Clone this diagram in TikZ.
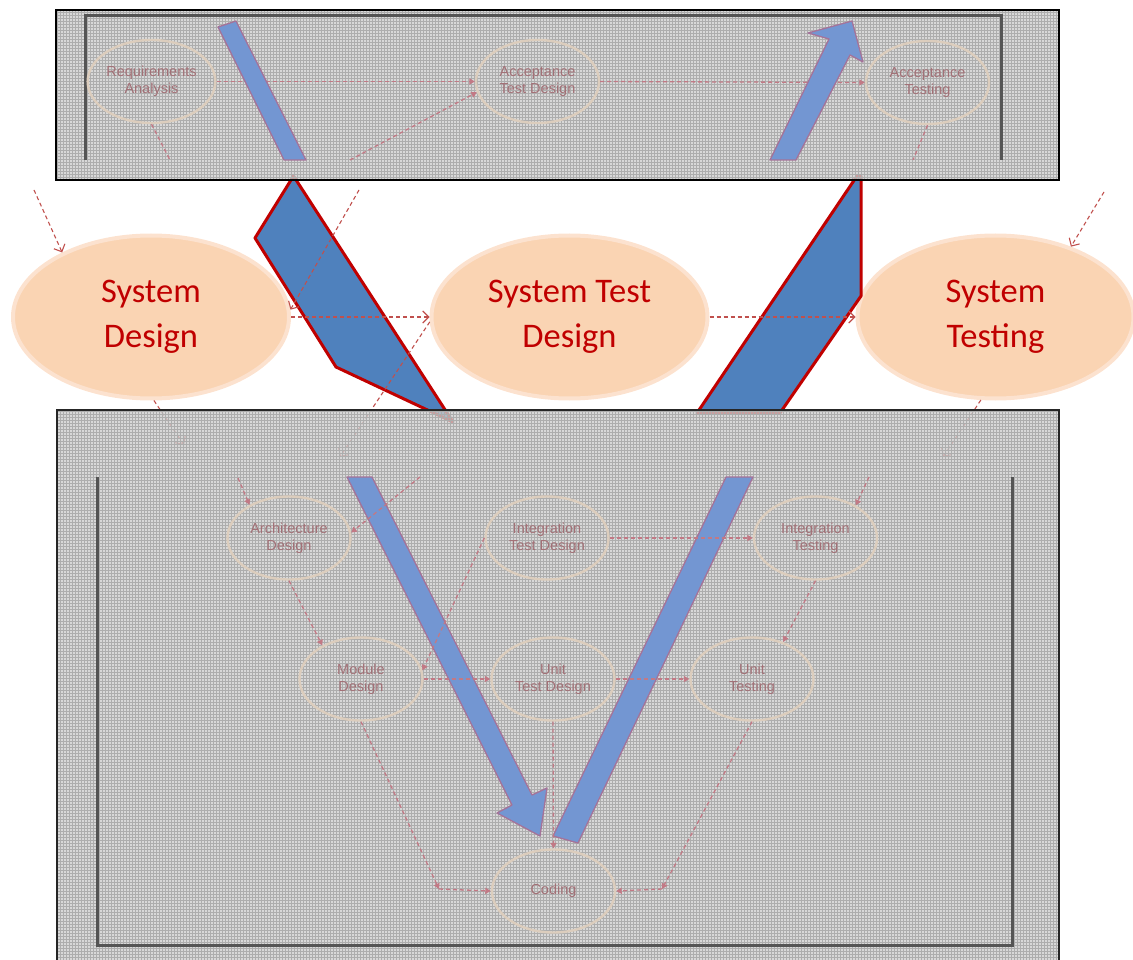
\documentclass[tikz,border=0pt]{standalone}
\usepackage{fontspec}
\newfontfamily\calib{Carlito}
\newfontfamily\arialf{Liberation Sans}
\usetikzlibrary{arrows.meta,patterns,shapes.geometric}
\definecolor{vred}{HTML}{C00000}
\definecolor{vblue}{HTML}{4F81BD}
\definecolor{peach}{HTML}{FAD4B3}
\definecolor{peachrim}{HTML}{FCE2CF}
\definecolor{linkred}{HTML}{C0504D}
\definecolor{panelbg}{HTML}{CDCDCD}
\definecolor{gridc}{HTML}{ADADAD}
\definecolor{fadeedge}{HTML}{DCCDBD}
\definecolor{fadetext}{HTML}{A27076}
\definecolor{fadelink}{HTML}{C27985}
\definecolor{fadeblue}{HTML}{7396D2}
\definecolor{fadeoutline}{HTML}{A47399}
\definecolor{bracketc}{HTML}{545454}
\begin{document}
\begin{tikzpicture}[x=1pt,y=-1pt,
  stage/.style={ellipse, fill=peach, draw=peachrim, line width=4pt,
    minimum width=276pt, minimum height=163pt, inner sep=0pt, text=vred,
    align=center, font=\calib\fontsize{34.5}{45}\selectfont},
  faded/.style={ellipse, draw=fadeedge, line width=2.4pt, minimum width=123pt,
    minimum height=83pt, inner sep=0pt, text=fadetext, align=center,
    font=\arialf\fontsize{14.5}{17}\selectfont},
  vlink/.style={draw=linkred, line width=1.1pt, dash pattern=on 4pt off 3pt,
    -{Straight Barb[length=6pt,width=12pt]}},
  flink/.style={draw=fadelink, line width=1.3pt, dash pattern=on 4pt off 3pt,
    -{Triangle[length=5.5pt,width=6pt]}},
  fline/.style={draw=fadelink, line width=1.3pt, dash pattern=on 4pt off 3pt},
  bigbar/.style={fill=vblue, draw=vred, line width=3pt, line join=round},
  fadebar/.style={fill=fadeblue, draw=fadeoutline, line width=1.3pt, line join=round},
  panel/.style={fill=panelbg, fill opacity=0.78},
  gridlay/.style={pattern=grid, pattern color=gridc},
  bracketline/.style={draw=bracketc, line width=3pt},
]
\useasboundingbox (0,0) rectangle (1133,960);

% system level stages
\node[stage] (sd)  at (151,317)   {System\\Design};
\node[stage] (std) at (569.5,317) {System Test\\Design};
\node[stage] (st)  at (995.5,317) {System\\Testing};

% enlarged arrow pieces between the two panels
\draw[bigbar] (293.5,176) -- (255,238) -- (336,367) -- (453,422) -- cycle;
\draw[bigbar] (857,176) -- (861,176) -- (861,296) -- (780,413) -- (697,413) -- cycle;

% system level links
\coordinate (a1s) at (34,190);
\coordinate (a2s) at (359,190);
\coordinate (a4e) at (340,457);
\coordinate (a5e) at (184,445);
\coordinate (a7s) at (1104,192);
\coordinate (a8e) at (943,457);
\draw[vlink] (a1s) -- (sd.144);
\draw[vlink] (a2s) -- (sd.3);
\draw[vlink] (sd.east) -- (std.west);
\draw[vlink] (std.182) -- (a4e);
\draw[vlink] (sd.-88) -- (a5e);
\draw[vlink] (std.east) -- (st.west);
\draw[vlink] (a7s) -- (st.43);
\draw[vlink] (st.-100) -- (a8e);

% panels with their screen texture
\path[panel] (56,10) rectangle (1059,180);
\path[panel] (57,410) rectangle (1059,975);
\path[gridlay] (56,10) rectangle (1059,180);
\path[gridlay] (57,410) rectangle (1059,975);

% ---- upper panel: acceptance level ----
\draw[bracketline] (85,160) -- (85,16) -- (1001,16) -- (1001,160);
\node[faded] (ra)  at (151.5,81.5) {Requirements\\Analysis};
\node[faded] (atd) at (537.5,81.5) {Acceptance\\Test Design};
\node[faded] (at)  at (927.5,82.5) {Acceptance\\Testing};
\coordinate (raout) at (170,160);
\coordinate (atdin) at (350,160);
\coordinate (atout) at (913,160);
\draw[flink] (ra.east) -- (atd.west);
\draw[flink] (atd.east) -- (at.west);
\draw[fline] (ra.south) -- (raout);
\draw[flink] (atdin) -- (atd.190);
\draw[fline] (at.south) -- (atout);
\draw[fadebar] (218,27) -- (236,21) -- (306,160) -- (284,160) -- cycle;
\draw[fadebar] (852,21) -- (863,62) -- (850,55) -- (796,160) -- (770,160)
  -- (829,39) -- (808,33) -- cycle;

% ---- lower panel: integration, unit and coding levels ----
\draw[bracketline] (97,477) -- (97,945) -- (1012,945) -- (1012,477);
\node[faded] (arch) at (289,538)   {Architecture\\Design};
\node[faded] (itd)  at (547,538)   {Integration\\Test Design};
\node[faded] (it)   at (815.5,538) {Integration\\Testing};
\node[faded] (mod)  at (361,679)   {Module\\Design};
\node[faded] (utd)  at (553,679)   {Unit\\Test Design};
\node[faded] (ut)   at (752,679)   {Unit\\Testing};
\node[faded] (cod)  at (553.5,891) {Coding};
\draw[fadebar] (347,477) -- (372,477) -- (532,795) -- (547,788) -- (540,836)
  -- (497,813) -- (512,805) -- cycle;
\draw[fadebar] (726,477) -- (753,477) -- (578,843) -- (553,836) -- cycle;
\coordinate (archin) at (238,478);
\coordinate (archr)  at (420,477);
\coordinate (itin)   at (869,477);
\coordinate (mc)     at (439,889);
\coordinate (uc)     at (662,889);
\draw[flink] (archin) -- (arch.140);
\draw[flink] (arch.south) -- (mod.139);
\draw[flink] (archr) -- (arch.5);
\draw[flink] (itd.west) -- (mod.8);
\draw[flink] (mod.east) -- (utd.west);
\draw[flink] (itd.east) -- (it.west);
\draw[flink] (utd.east) -- (ut.west);
\draw[flink] (itin) -- (it.39);
\draw[flink] (it.south) -- (ut.50);
\draw[flink] (utd.south) -- (cod.north);
\draw[flink] (mod.south) -- (mc);
\draw[flink] (mc) -- (cod.west);
\draw[flink] (ut.south) -- (uc);
\draw[flink] (uc) -- (cod.east);

% frames
\draw[black, line width=2.2pt] (56,10) rectangle (1059,180);
\draw[black!85, line width=1.6pt] (57,410) rectangle (1059,975);
\end{tikzpicture}
\end{document}
